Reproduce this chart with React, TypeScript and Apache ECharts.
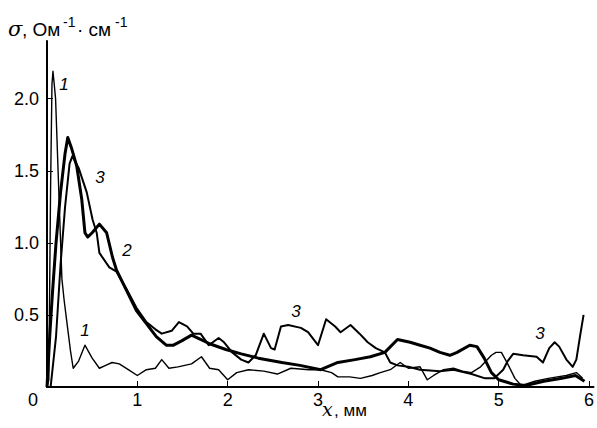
import React, { useEffect, useRef } from "react";
import * as echarts from "echarts";

// Curve 1 (thin): sharp spike near the origin, then low noisy level
const curve1X = [0, 0.02, 0.04, 0.055, 0.066, 0.08, 0.095, 0.12, 0.145, 0.165, 0.19, 0.22, 0.26, 0.29, 0.35, 0.42, 0.5, 0.58, 0.65, 0.72, 0.8, 0.9, 1.0, 1.1, 1.2, 1.27, 1.35, 1.45, 1.6, 1.71, 1.8, 1.9, 2.0, 2.1, 2.23, 2.4, 2.55, 2.7, 2.9, 3.03, 3.15, 3.22, 3.35, 3.47, 3.6, 3.69, 3.8, 3.91, 4.0, 4.13, 4.21, 4.28, 4.39, 4.5, 4.6, 4.7, 4.8, 4.86, 4.92, 4.97, 5.03, 5.1, 5.18, 5.25, 5.4, 5.55, 5.65, 5.75, 5.86, 5.93];
const curve1Y = [0, 0.05, 1.4, 2.1, 2.19, 2.1, 2.0, 1.55, 1.1, 0.75, 0.6, 0.45, 0.25, 0.13, 0.18, 0.29, 0.2, 0.13, 0.15, 0.17, 0.16, 0.12, 0.08, 0.12, 0.13, 0.19, 0.13, 0.14, 0.16, 0.21, 0.13, 0.12, 0.05, 0.1, 0.12, 0.11, 0.09, 0.13, 0.12, 0.12, 0.1, 0.07, 0.07, 0.06, 0.08, 0.1, 0.12, 0.17, 0.13, 0.14, 0.05, 0.08, 0.12, 0.13, 0.11, 0.1, 0.14, 0.18, 0.22, 0.24, 0.24, 0.16, 0.06, 0.01, 0.04, 0.06, 0.07, 0.08, 0.1, 0.06];

// Curve 2 (thick): smooth peak and decay
const curve2X = [0, 0.03, 0.06, 0.1, 0.15, 0.2, 0.23, 0.27, 0.33, 0.385, 0.42, 0.45, 0.5, 0.58, 0.66, 0.725, 0.77, 0.88, 0.99, 1.1, 1.21, 1.32, 1.4, 1.49, 1.6, 1.7, 1.8, 1.98, 2.15, 2.34, 2.6, 2.8, 3.03, 3.22, 3.41, 3.58, 3.74, 3.88, 4.02, 4.13, 4.24, 4.35, 4.46, 4.54, 4.68, 4.76, 4.84, 4.92, 5.0, 5.16, 5.3, 5.5, 5.7, 5.85, 5.95];
const curve2Y = [0, 0.35, 0.65, 1.0, 1.35, 1.62, 1.73, 1.66, 1.53, 1.3, 1.07, 1.04, 1.07, 1.13, 1.07, 0.9, 0.81, 0.67, 0.53, 0.44, 0.35, 0.29, 0.29, 0.32, 0.36, 0.33, 0.3, 0.26, 0.23, 0.2, 0.17, 0.15, 0.12, 0.17, 0.19, 0.21, 0.24, 0.33, 0.31, 0.29, 0.27, 0.24, 0.22, 0.24, 0.29, 0.28, 0.2, 0.1, 0.05, 0.02, 0.01, 0.04, 0.06, 0.08, 0.04];

// Curve 3 (medium): second peak, noisy plateau, rise at the end
const curve3X = [0.04, 0.1, 0.15, 0.2, 0.25, 0.28, 0.35, 0.44, 0.505, 0.55, 0.58, 0.69, 0.77, 0.88, 0.99, 1.1, 1.2, 1.27, 1.38, 1.46, 1.55, 1.62, 1.7, 1.79, 1.9, 1.96, 2.05, 2.15, 2.23, 2.31, 2.4, 2.48, 2.52, 2.59, 2.67, 2.81, 2.89, 3.0, 3.09, 3.19, 3.25, 3.36, 3.46, 3.55, 3.64, 3.74, 3.8, 3.88, 4.0, 4.13, 4.35, 4.5, 4.7, 4.85, 4.95, 5.05, 5.1, 5.16, 5.27, 5.42, 5.49, 5.56, 5.62, 5.67, 5.75, 5.82, 5.86, 5.9, 5.94];
const curve3Y = [0, 0.35, 0.85, 1.25, 1.55, 1.6, 1.52, 1.35, 1.16, 1.07, 0.93, 0.83, 0.8, 0.68, 0.55, 0.45, 0.4, 0.37, 0.39, 0.45, 0.42, 0.37, 0.37, 0.29, 0.34, 0.31, 0.24, 0.19, 0.17, 0.22, 0.37, 0.27, 0.26, 0.42, 0.43, 0.41, 0.38, 0.29, 0.47, 0.42, 0.38, 0.43, 0.37, 0.31, 0.27, 0.24, 0.17, 0.15, 0.14, 0.12, 0.11, 0.12, 0.09, 0.06, 0.06, 0.12, 0.18, 0.23, 0.22, 0.21, 0.17, 0.27, 0.31, 0.28, 0.19, 0.14, 0.19, 0.35, 0.5];

const xTicks = [1, 2, 3, 4, 5, 6];
const yTicks = [0.5, 1.0, 1.5, 2.0];

const zip = (xs: number[], ys: number[]) => xs.map((x, i) => [x, ys[i]]);

const SANS = "'Liberation Sans', Arial, sans-serif";
const SERIF = "'DejaVu Serif', 'Liberation Serif', serif";

export default function App() {
  const ref = useRef<HTMLDivElement>(null);
  useEffect(() => {
    if (!ref.current) return;
    const chart = echarts.init(ref.current, null, { renderer: "svg" });
    const lbl = (text: string, x: number, y: number) => ({
      type: "text",
      x,
      y,
      style: { text, font: `italic 17px ${SANS}`, fill: "#000", align: "center", verticalAlign: "middle" },
    });
    chart.setOption({
      animation: false,
      backgroundColor: "#fff",
      grid: { left: 47, right: 0, top: 41, bottom: 41 },
      xAxis: {
        type: "value",
        min: 0,
        max: 6.05,
        interval: 1,
        splitLine: { show: false },
        axisLine: { lineStyle: { color: "#000", width: 2 } },
        axisTick: { inside: true, length: 6, customValues: xTicks, lineStyle: { color: "#000", width: 1 } },
        axisLabel: { customValues: xTicks, margin: 4, color: "#000", fontSize: 18, fontFamily: SANS },
      },
      yAxis: {
        type: "value",
        min: 0,
        max: 2.4,
        interval: 0.5,
        splitLine: { show: false },
        axisLine: { onZero: false, lineStyle: { color: "#000", width: 2 } },
        axisTick: { inside: true, length: 6, customValues: yTicks, lineStyle: { color: "#000", width: 1 } },
        axisLabel: {
          customValues: yTicks,
          margin: 8,
          color: "#000",
          fontSize: 18,
          fontFamily: SANS,
          formatter: (v: number) => v.toFixed(1),
        },
      },
      series: [
        {
          type: "line",
          data: zip(curve1X, curve1Y),
          showSymbol: false,
          lineStyle: { color: "#000", width: 1.4, join: "round" },
        },
        {
          type: "line",
          data: zip(curve2X, curve2Y),
          showSymbol: false,
          lineStyle: { color: "#000", width: 3, join: "round" },
        },
        {
          type: "line",
          data: zip(curve3X, curve3Y),
          showSymbol: false,
          lineStyle: { color: "#000", width: 2, join: "round" },
        },
      ],
      graphic: [
        { type: "text", x: 8, y: 29, style: { text: "σ", font: `italic 21px ${SERIF}`, fill: "#000", verticalAlign: "middle" } },
        { type: "text", x: 22, y: 29, style: { text: ", Ом", font: `19px ${SANS}`, fill: "#000", verticalAlign: "middle" } },
        { type: "text", x: 63, y: 22, style: { text: "-1", font: `14px ${SANS}`, fill: "#000", verticalAlign: "middle" } },
        { type: "text", x: 77, y: 29, style: { text: "· см", font: `19px ${SANS}`, fill: "#000", verticalAlign: "middle" } },
        { type: "text", x: 115, y: 22, style: { text: "-1", font: `14px ${SANS}`, fill: "#000", verticalAlign: "middle" } },
        { type: "text", x: 33, y: 400, style: { text: "0", font: `18px ${SANS}`, fill: "#000", align: "center", verticalAlign: "middle" } },
        { type: "text", x: 322, y: 409, style: { text: "x", font: `italic 19px ${SERIF}`, fill: "#000", verticalAlign: "middle" } },
        { type: "text", x: 334, y: 410, style: { text: ", мм", font: `17px ${SANS}`, fill: "#000", verticalAlign: "middle" } },
        lbl("1", 64, 84),
        lbl("3", 100, 177),
        lbl("2", 127, 250),
        lbl("1", 85, 330),
        lbl("3", 296, 311),
        lbl("3", 540, 333),
      ],
    });
    return () => chart.dispose();
  }, []);
  return <div ref={ref} style={{ width: 597, height: 428, position: "absolute", left: 0, top: 0 }} />;
}
